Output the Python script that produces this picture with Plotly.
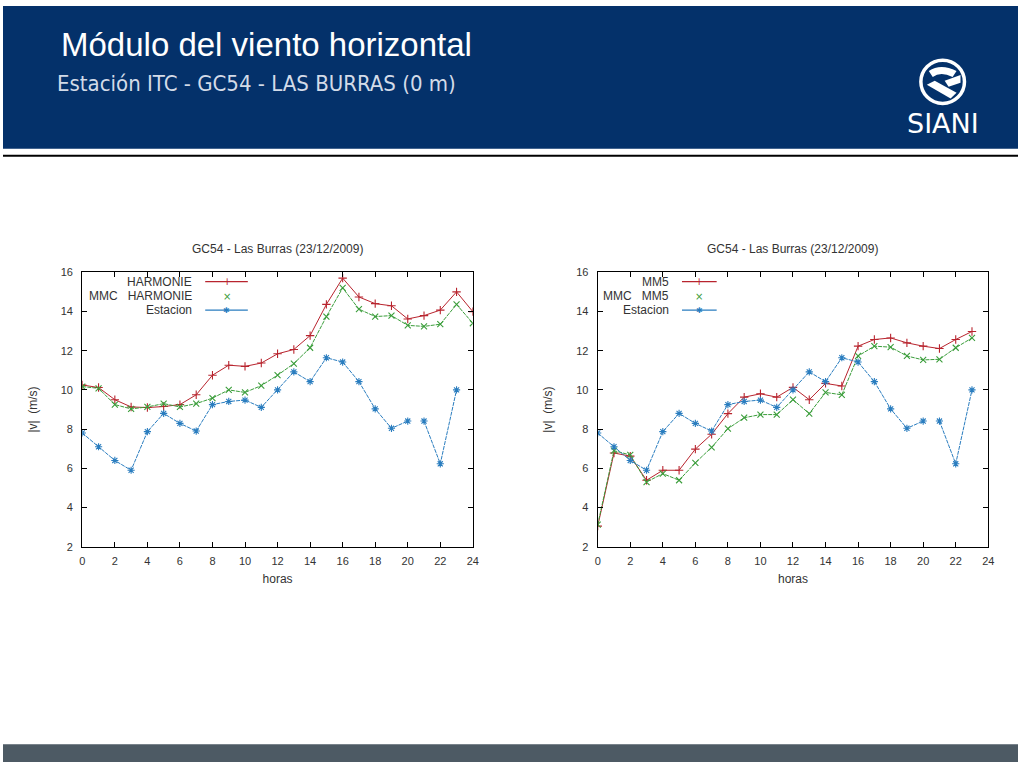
import plotly.graph_objects as go

# ---------------- data ----------------
hours_harmonie = list(range(0, 25))
harmonie = [10.25, 10.12, 9.5, 9.13, 9.1, 9.15, 9.25, 9.75, 10.75, 11.26, 11.2, 11.37, 11.84,
            12.06, 12.77, 14.36, 15.7, 14.74, 14.4, 14.29, 13.62, 13.79, 14.07, 15.0, 13.99]
mmc_harmonie = [10.17, 10.08, 9.25, 9.03, 9.13, 9.3, 9.13, 9.3, 9.58, 10.0, 9.87, 10.22, 10.75,
                11.34, 12.15, 13.74, 15.2, 14.12, 13.74, 13.79, 13.29, 13.24, 13.35, 14.36, 13.4]

hours_mm5 = list(range(0, 24))
mm5 = [3.05, 6.78, 6.62, 5.39, 5.9, 5.9, 6.98, 7.74, 8.79, 9.63, 9.8, 9.63, 10.13,
       9.5, 10.33, 10.2, 12.23, 12.57, 12.65, 12.4, 12.23, 12.11, 12.57, 12.98]
mmc_mm5 = [3.13, 6.9, 6.68, 5.3, 5.73, 5.39, 6.28, 7.07, 8.02, 8.58, 8.74, 8.74, 9.5,
           8.79, 9.87, 9.75, 11.73, 12.23, 12.18, 11.73, 11.53, 11.56, 12.15, 12.65]

# station observations (gap in the record between 20 h and 21 h)
hours_station = [0, 1, 2, 3, 4, 5, 6, 7, 8, 9, 10, 11, 12, 13, 14, 15, 16, 17, 18, 19, 20, 20.5, 21, 22, 23]
station = [7.8, 7.1, 6.4, 5.9, 7.87, 8.8, 8.29, 7.9, 9.25, 9.41, 9.48, 9.11, 10.0, 10.92, 10.42,
           11.64, 11.42, 10.42, 9.03, 8.04, 8.41, None, 8.41, 6.23, 10.0]

x_ticks = list(range(0, 25, 2))
y_ticks = list(range(2, 17, 2))

chart_title = "GC54 - Las Burras (23/12/2009)"
left_names = ["HARMONIE", "MMC   HARMONIE", "Estacion"]
right_names = ["MM5", "MMC   MM5", "Estacion"]

RED = "#b8242e"
GREEN = "#3a9d3a"
BLUE = "#2a7dbf"
NAVY = "#04316a"
TXT = "#333333"

W, H = 1024, 768


def px(x):
    return x / W


def py(y):
    return 1 - y / H


fig = go.Figure()

# ---------------- traces ----------------
def add_series(xa, ya, xs, ys, color, symbol, name, dash="solid"):
    fig.add_trace(go.Scatter(
        x=xs, y=ys, xaxis=xa, yaxis=ya, mode="lines+markers", name=name,
        connectgaps=False, showlegend=False,
        line=dict(color=color, width=1, dash=dash),
        marker=dict(symbol=symbol, size=6, color=color, line=dict(color=color, width=1.1)),
    ))


add_series("x", "y", hours_harmonie, harmonie, RED, "cross-thin", left_names[0])
add_series("x", "y", hours_harmonie, mmc_harmonie, GREEN, "x-thin", left_names[1], "4px,1px")
add_series("x", "y", hours_station, station, BLUE, "asterisk-open", left_names[2], "4px,1px")

add_series("x2", "y2", hours_mm5, mm5, RED, "cross-thin", right_names[0])
add_series("x2", "y2", hours_mm5, mmc_mm5, GREEN, "x-thin", right_names[1], "4px,1px")
add_series("x2", "y2", hours_station, station, BLUE, "asterisk-open", right_names[2], "4px,1px")

# ---------------- axes ----------------
ydom = [py(549.3), py(270.5)]
axis_common = dict(showgrid=False, zeroline=False, showline=True, linecolor="black", linewidth=1.3,
                   mirror="allticks", ticks="inside", ticklen=5, tickcolor="black", tickwidth=1,
                   tickfont=dict(family="Liberation Sans, Arial", size=11, color=TXT))

xaxis_common = dict(axis_common, range=[0, 24], tickvals=x_ticks, ticktext=[str(t) for t in x_ticks],
                    ticklabelstandoff=4,
                    title=dict(text="horas", font=dict(family="Liberation Sans, Arial", size=12, color=TXT),
                               standoff=8))
yaxis_common = dict(axis_common, range=[2, 16], tickvals=y_ticks, ticktext=[str(t) for t in y_ticks],
                    ticklabelstandoff=6,
                    title=dict(text="|v|  (m/s)", font=dict(family="Liberation Sans, Arial", size=12, color=TXT),
                               standoff=20))

fig.update_layout(
    xaxis=dict(xaxis_common, domain=[px(80), px(474)], anchor="y"),
    yaxis=dict(yaxis_common, domain=ydom, anchor="x"),
    xaxis2=dict(xaxis_common, domain=[px(600), px(994)], anchor="y2"),
    yaxis2=dict(yaxis_common, domain=ydom, anchor="x2"),
)

# ---------------- decorations ----------------
shapes = [
    dict(type="rect", xref="paper", yref="paper", x0=0, x1=1, y0=py(145), y1=1,
         fillcolor=NAVY, line=dict(width=0), layer="below"),
    dict(type="line", xref="paper", yref="paper", x0=0, x1=1, y0=py(152), y1=py(152),
         line=dict(color="black", width=2)),
    dict(type="rect", xref="paper", yref="paper", x0=0, x1=1, y0=0, y1=py(750),
         fillcolor="#4d5a64", line=dict(width=0)),
    # logo globe
    dict(type="circle", xref="paper", yref="paper", x0=px(926), x1=px(970), y0=py(99), y1=py(55),
         line=dict(color="white", width=3.5)),
    dict(type="path", xref="paper", yref="paper",
         path=f"M {px(934)} {py(66)} Q {px(946)} {py(58)} {px(962)} {py(66)} L {px(958)} {py(72)} "
              f"Q {px(946)} {py(66)} {px(938)} {py(72)} Z",
         fillcolor="white", line=dict(width=0)),
    dict(type="path", xref="paper", yref="paper",
         path=f"M {px(932)} {py(80)} L {px(956)} {py(94)} L {px(962)} {py(88)} L {px(940)} {py(76)} Z",
         fillcolor="white", line=dict(width=0)),
    dict(type="path", xref="paper", yref="paper",
         path=f"M {px(950)} {py(76)} L {px(966)} {py(70)} L {px(966)} {py(78)} L {px(954)} {py(82)} Z",
         fillcolor="white", line=dict(width=0)),
]

annotations = [
    dict(text="Módulo del viento horizontal", xref="paper", yref="paper", x=px(56), y=py(39),
         xanchor="left", yanchor="middle", showarrow=False,
         font=dict(family="Liberation Sans, Arial", size=33, color="white")),
    dict(text="Estación ITC - GC54 - LAS BURRAS (0 m)", xref="paper", yref="paper", x=px(52), y=py(79),
         xanchor="left", yanchor="middle", showarrow=False,
         font=dict(family="DejaVu Sans Condensed, DejaVu Sans", size=22, color="#d3dbe8")),
    dict(text="SIANI", xref="paper", yref="paper", x=px(948), y=py(119),
         xanchor="center", yanchor="middle", showarrow=False,
         font=dict(family="DejaVu Sans, Verdana", size=27, color="white")),
    dict(text=chart_title, xref="paper", yref="paper", x=px(277), y=py(247),
         xanchor="center", yanchor="middle", showarrow=False,
         font=dict(family="Liberation Sans, Arial", size=12, color=TXT)),
    dict(text=chart_title, xref="paper", yref="paper", x=px(797), y=py(247),
         xanchor="center", yanchor="middle", showarrow=False,
         font=dict(family="Liberation Sans, Arial", size=12, color=TXT)),
]

# manual gnuplot-style legends
legend_rows = [280, 295, 309]
legend_style = [(RED, "+", True), (GREEN, "×", False), (BLUE, "✱", True)]
for names, text_right, lx0, lx1 in [(left_names, 193, 204, 247), (right_names, 674, 685, 720)]:
    for name, yrow, (col, sym, has_line) in zip(names, legend_rows, legend_style):
        annotations.append(dict(text=name, xref="paper", yref="paper", x=px(text_right), y=py(yrow),
                                xanchor="right", yanchor="middle", showarrow=False,
                                font=dict(family="Liberation Sans, Arial", size=12, color=TXT)))
        if has_line:
            shapes.append(dict(type="line", xref="paper", yref="paper", x0=px(lx0), x1=px(lx1),
                               y0=py(yrow), y1=py(yrow), line=dict(color=col, width=1.2)))
        annotations.append(dict(text=sym, xref="paper", yref="paper", x=px((lx0 + lx1) / 2), y=py(yrow),
                                xanchor="center", yanchor="middle", showarrow=False,
                                font=dict(family="DejaVu Sans", size=10 if sym != "✱" else 8, color=col)))

fig.update_layout(
    width=W, height=H, margin=dict(l=0, r=0, t=0, b=0),
    paper_bgcolor="white", plot_bgcolor="white",
    shapes=shapes, annotations=annotations, showlegend=False,
)

fig.write_html(
    "out.html",
    config={"displayModeBar": False, "responsive": False},
    post_script=(
        "document.documentElement.style.margin='0';document.documentElement.style.overflow='hidden';"
        "document.body.style.margin='0';document.body.style.padding='0';document.body.style.overflow='hidden';"
        "var d=document.getElementById('{plot_id}');d.style.position='fixed';d.style.left='0px';d.style.top='0px';"
    ),
)
